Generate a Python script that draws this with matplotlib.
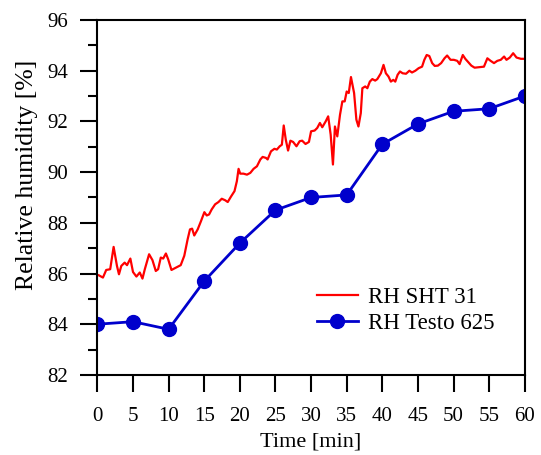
import numpy as np
import matplotlib
matplotlib.use("Agg")
import matplotlib.pyplot as plt
from matplotlib.ticker import MultipleLocator

plt.rcParams["font.family"] = ["Liberation Serif", "DejaVu Serif"]
plt.rcParams.update({
    "xtick.labelsize": 15, "ytick.labelsize": 15,
    "xtick.major.pad": 11, "ytick.major.pad": 9,
    "xtick.major.size": 12, "ytick.major.size": 12, "ytick.minor.size": 6.5,
    "xtick.major.width": 1.5, "ytick.major.width": 1.5, "ytick.minor.width": 1.5,
    "xtick.direction": "out", "ytick.direction": "out",
    "axes.linewidth": 1.5,
})

# RH SHT 31 (minutos / %)
t_sht = [0.2, 0.78, 1.24, 1.8, 2.28, 2.75, 3.03, 3.36, 3.83, 4.16, 4.63, 5.0, 5.48, 5.95,
         6.33, 6.66, 7.26, 7.73, 8.2, 8.53, 8.9, 9.24, 9.62, 9.94, 10.4, 11.1, 11.7,
         12.2, 12.67, 13.0, 13.3, 13.6, 14.08, 14.55, 15.02, 15.35, 15.68, 16.05, 16.53,
         17.0, 17.46, 17.94, 18.3, 18.79, 19.25, 19.58, 19.82, 20.05, 20.5, 21.0, 21.47,
         21.93, 22.4, 22.88, 23.2, 23.67, 23.9, 24.37, 24.85, 25.2, 25.6, 25.9, 26.16,
         26.45, 26.77, 27.1, 27.48, 27.95, 28.4, 28.75, 29.22, 29.7, 30.0, 30.5, 30.86,
         31.24, 31.57, 32.05, 32.4, 32.75, 33.07, 33.35, 33.68, 34.06, 34.39, 34.72, 35.0,
         35.29, 35.6, 36.04, 36.36, 36.65, 36.98, 37.2, 37.6, 37.9, 38.25, 38.6, 39.0,
         39.3, 39.8, 40.17, 40.5, 40.87, 41.2, 41.54, 41.82, 42.15, 42.48, 42.85, 43.33,
         43.8, 44.17, 44.64, 45.1, 45.58, 45.9, 46.23, 46.6, 47.0, 47.36, 47.8, 48.26,
         48.73, 49.1, 49.58, 50.04, 50.52, 50.85, 51.3, 51.65, 52.0, 52.5, 52.96, 53.67,
         54.27, 54.75, 55.2, 55.68, 56.15, 56.63, 57.1, 57.43, 57.9, 58.37, 58.84, 59.45,
         59.8]
rh_sht = [85.93, 85.84, 86.14, 86.17, 87.05, 86.3, 85.97, 86.3, 86.43, 86.33, 86.59, 86.06,
          85.88, 86.04, 85.8, 86.17, 86.76, 86.53, 86.1, 86.17, 86.63, 86.59, 86.79, 86.56,
          86.14, 86.24, 86.33, 86.7, 87.35, 87.74, 87.77, 87.5, 87.74, 88.07, 88.42, 88.29,
          88.33, 88.53, 88.73, 88.82, 88.95, 88.89, 88.82, 89.05, 89.25, 89.64, 90.13,
          89.94, 89.94, 89.9, 89.97, 90.13, 90.23, 90.5, 90.6, 90.56, 90.5, 90.82, 90.92,
          90.89, 91.02, 91.08, 91.84, 91.28, 90.85, 91.24, 91.19, 91.02, 91.22, 91.24,
          91.11, 91.19, 91.61, 91.64, 91.74, 91.94, 91.77, 92.0, 92.2, 91.48, 90.3, 91.8,
          91.41, 92.26, 92.79, 92.79, 93.18, 93.12, 93.75, 93.12, 92.07, 91.8, 92.33, 93.31,
          93.38, 93.31, 93.57, 93.67, 93.61, 93.67, 93.9, 94.23, 93.9, 93.77, 93.57, 93.64,
          93.57, 93.84, 93.97, 93.9, 93.88, 94.0, 93.93, 94.0, 94.1, 94.16, 94.43, 94.62,
          94.58, 94.3, 94.19, 94.2, 94.3, 94.49, 94.6, 94.43, 94.43, 94.39, 94.26, 94.62,
          94.47, 94.36, 94.2, 94.12, 94.14, 94.16, 94.49, 94.39, 94.3, 94.39, 94.43, 94.56,
          94.43, 94.52, 94.69, 94.52, 94.47, 94.47]

# RH Testo 625
t_testo = [0, 5, 10, 15, 20, 25, 30, 35, 40, 45, 50, 55, 60]
rh_testo = [84.0, 84.1, 83.8, 85.7, 87.2, 88.5, 89.0, 89.1, 91.1, 91.9, 92.4, 92.5, 93.0]

fig = plt.figure(figsize=(5.41, 4.55), dpi=100)
ax = fig.add_axes([0.180, 0.176, 0.790, 0.780])

ax.plot(t_sht, rh_sht, color="red", lw=1.6, label="RH SHT 31")
ax.plot(t_testo, rh_testo, color="#0000cc", lw=2.0, marker="o", markersize=10,
        label="RH Testo 625")

ax.set_xlim(0, 60)
ax.set_ylim(82, 96)
ax.xaxis.set_major_locator(MultipleLocator(5))
ax.yaxis.set_major_locator(MultipleLocator(2))
ax.yaxis.set_minor_locator(MultipleLocator(1))

ax.set_xlabel("Time [min]", fontsize=16, labelpad=5)
ax.set_ylabel("Relative humidity [%]", fontsize=18.5)
ax.yaxis.set_label_coords(-0.138, 0.565)

ax.legend(loc="lower right", bbox_to_anchor=(0.93, 0.115), frameon=False, fontsize=16.5,
          handlelength=1.8, handletextpad=0.45, labelspacing=0.23,
          borderpad=0, borderaxespad=0)

fig.savefig("out.png", dpi=100)
